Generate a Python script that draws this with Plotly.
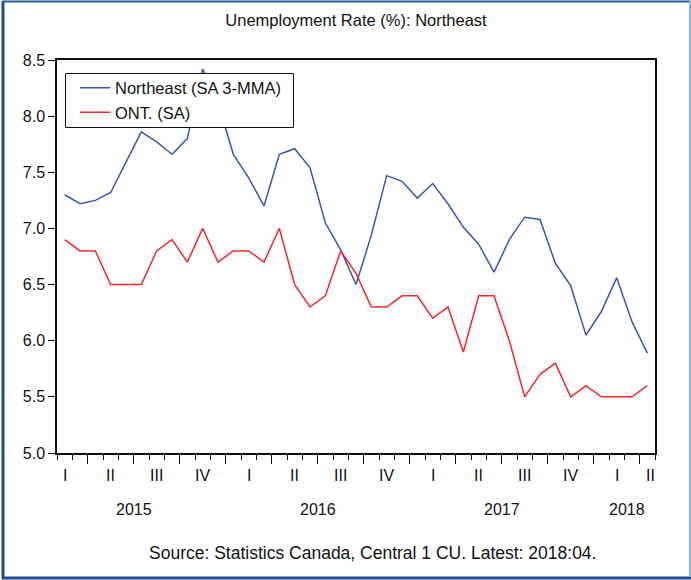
import plotly.graph_objects as go
import pandas as pd

# ---- data (Feb 2015 .. Apr 2018, monthly) ----
months = pd.date_range("2015-02-01", "2018-04-01", freq="MS")
northeast = [7.30, 7.22, 7.25, 7.32, 7.59, 7.86, 7.77, 7.66, 7.80, 8.42,
             8.12, 7.66, 7.45, 7.20, 7.66, 7.71, 7.54, 7.05, 6.81, 6.50,
             6.94, 7.47, 7.42, 7.27, 7.40, 7.22, 7.01, 6.86, 6.61, 6.90,
             7.10, 7.08, 6.69, 6.49, 6.05, 6.26, 6.56, 6.17, 5.89]
ontario = [6.9, 6.8, 6.8, 6.5, 6.5, 6.5, 6.8, 6.9, 6.7, 7.0,
           6.7, 6.8, 6.8, 6.7, 7.0, 6.5, 6.3, 6.4, 6.8, 6.6,
           6.3, 6.3, 6.4, 6.4, 6.2, 6.3, 5.9, 6.4, 6.4, 6.0,
           5.5, 5.7, 5.8, 5.5, 5.6, 5.5, 5.5, 5.5, 5.6]
quarter_labels = ["I", "II", "III", "IV", "I", "II", "III", "IV",
                  "I", "II", "III", "IV", "I", "II"]
year_labels = ["2015", "2016", "2017", "2018"]

x = list(range(len(months)))
x_lo, x_hi = -0.5, len(months) - 0.5

# ---- geometry helpers (pixel -> paper) ----
W, H = 691, 580
ML, MR, MT, MB = 57, 36, 60, 127
PW, PH = W - ML - MR, H - MT - MB
def px(v):
    return (v - ML) / PW
def py(v):
    return (H - MB - v) / PH

BLUE = "#3a56a8"
RED = "#f0282d"
FONT = "Liberation Sans, Arial, sans-serif"

fig = go.Figure()
fig.add_trace(go.Scatter(x=x, y=northeast, mode="lines", name="Northeast (SA 3-MMA)",
                         line=dict(color=BLUE, width=1.5),
                         customdata=[m.strftime("%Y:%m") for m in months],
                         hovertemplate="%{customdata}: %{y}<extra></extra>"))
fig.add_trace(go.Scatter(x=x, y=ontario, mode="lines", name="ONT. (SA)",
                         line=dict(color=RED, width=1.5),
                         customdata=[m.strftime("%Y:%m") for m in months],
                         hovertemplate="%{customdata}: %{y}<extra></extra>"))

# quarter boundaries (month index of Jan 2015 is -1)
q_bounds = [b - 0.5 for b in range(2, len(months), 3)]

annotations = []
for k, lab in enumerate(quarter_labels):
    c = -1 + 3 * k + 1
    c = min(c, x_hi - 0.3)
    annotations.append(dict(x=c, y=py(475), xref="x", yref="paper", text=lab,
                            showarrow=False, font=dict(size=16, color="#111"),
                            xanchor="center", yanchor="middle"))
for k, lab in enumerate(year_labels):
    start = -1.5 + 12 * k
    end = min(start + 12, x_hi + 0.4)
    annotations.append(dict(x=(start + end) / 2, y=py(510), xref="x", yref="paper",
                            text=lab, showarrow=False, font=dict(size=16, color="#111"),
                            xanchor="center", yanchor="middle"))
annotations.append(dict(x=px(372), y=py(553), xref="paper", yref="paper",
                        text="Source: Statistics Canada, Central 1 CU. Latest: 2018:04.",
                        showarrow=False, font=dict(size=17.5, color="#111"),
                        xanchor="center", yanchor="middle"))

shapes = [
    # legend frame
    dict(type="rect", xref="paper", yref="paper", x0=px(65.5), x1=px(293.5),
         y0=py(127.5), y1=py(73.5), fillcolor="white",
         line=dict(color="#111", width=1), layer="above"),
    # outer border
    dict(type="line", xref="paper", yref="paper", x0=px(3), x1=px(3), y0=py(1), y1=py(579),
         line=dict(color="#1f4e8c", width=3)),
    dict(type="line", xref="paper", yref="paper", x0=px(2), x1=px(690), y0=py(1.5), y1=py(1.5),
         line=dict(color="#2a5a96", width=2)),
    dict(type="line", xref="paper", yref="paper", x0=px(2), x1=px(691), y0=py(578), y1=py(578),
         line=dict(color="#1f4e8c", width=3)),
    dict(type="line", xref="paper", yref="paper", x0=px(690), x1=px(690), y0=py(0), y1=py(576.5),
         line=dict(color="#93acd6", width=2)),
]

fig.update_layout(
    width=W, height=H,
    margin=dict(l=ML, r=MR, t=MT, b=MB),
    paper_bgcolor="white", plot_bgcolor="white",
    font=dict(family=FONT, size=16, color="#111"),
    title=dict(text="Unemployment Rate (%): Northeast", x=0.5, xref="paper",
               y=1 - 20 / H, yref="container", xanchor="center", yanchor="middle",
               font=dict(size=16.5, color="#111")),
    showlegend=True,
    legend=dict(x=px(75), y=py(70.5), xanchor="left", yanchor="top",
                bgcolor="rgba(0,0,0,0)", borderwidth=0,
                font=dict(size=16.5, color="#111"), tracegroupgap=0),
    xaxis=dict(range=[x_lo, x_hi], tickmode="array", tickvals=q_bounds,
               showticklabels=False, ticks="outside", ticklen=9, tickwidth=1,
               tickcolor="#111", showgrid=False, zeroline=False,
               showline=True, linecolor="#111", linewidth=1.5, mirror=True,
               minor=dict(tickmode="linear", tick0=-0.5, dtick=1, ticks="outside",
                          ticklen=5, tickwidth=1, tickcolor="#111", showgrid=False)),
    yaxis=dict(range=[5.0, 8.5], tickmode="linear", tick0=5.0, dtick=0.5,
               tickformat=".1f", ticks="outside", ticklen=7, tickwidth=1,
               tickcolor="#111", showgrid=False, zeroline=False,
               showline=True, linecolor="#111", linewidth=1.5, mirror=True,
               tickfont=dict(size=16, color="#111")),
    annotations=annotations,
    shapes=shapes,
)

fig.write_html("out.html",
               config={"displayModeBar": False},
               post_script="document.body.style.margin='0';document.body.style.overflow='hidden';")
